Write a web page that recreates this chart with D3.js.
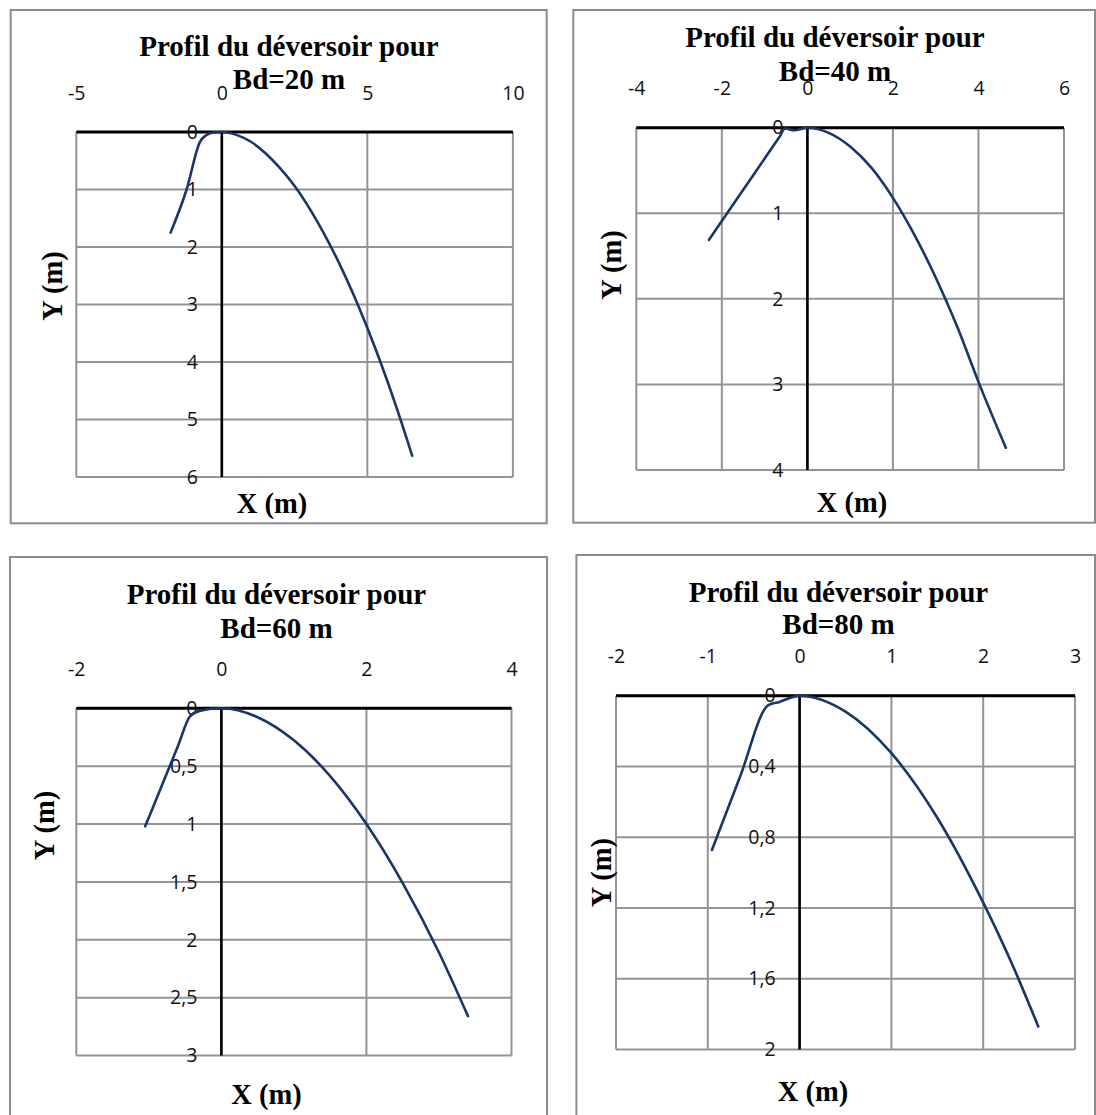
<!DOCTYPE html>
<html>
<head>
<meta charset="utf-8">
<script src="https://cdn.jsdelivr.net/npm/d3@7"></script>
<style>
  html, body { margin: 0; padding: 0; background: #fff; }
  svg { display: block; }
  .tick text { font-family: "Open Sans", sans-serif; font-size: 19.5px; fill: #111; }
  .ttl { font-family: "Liberation Serif", "Times New Roman", serif; font-weight: bold; font-size: 29px; fill: #000; }
  .lbl { font-family: "Liberation Serif", "Times New Roman", serif; font-weight: bold; font-size: 28.5px; fill: #000; }
</style>
</head>
<body>
<svg id="chart" width="1096" height="1115"></svg>
<script>
// Crest profiles of the spillway for four spillway widths (Bd).
// X: horizontal distance from the crest (m), Y: depth below the crest (m).

const titles = ["Bd=20 m", "Bd=40 m", "Bd=60 m", "Bd=80 m"];

// Bd = 20 m
const bd20X = [-1.76, -1.21, -0.75, -0.55, -0.3, 0, 0.5, 1, 1.5, 2, 2.5, 3, 3.5, 4, 4.5, 5, 5.5, 6, 6.54];
const bd20Y = [1.75, 1.0, 0.17, 0.06, 0.01, 0, 0.05, 0.17, 0.37, 0.63, 0.94, 1.32, 1.76, 2.25, 2.8, 3.41, 4.07, 4.79, 5.63];
const xTicks20 = [-5, 0, 5, 10];
const yTicks20 = [0, 1, 2, 3, 4, 5, 6];

// Bd = 40 m
const bd40X = [-2.3, -1.5, -0.8, -0.65, -0.52, -0.3, 0, 0.5, 1, 1.5, 2, 2.5, 3, 3.5, 4, 4.64];
const bd40Y = [1.31, 0.726, 0.215, 0.105, 0.01, 0.03, 0, 0.06, 0.22, 0.47, 0.82, 1.25, 1.75, 2.32, 2.97, 3.74];
const xTicks40 = [-4, -2, 0, 2, 4, 6];
const yTicks40 = [0, 1, 2, 3, 4];

// Bd = 60 m
const bd60X = [-1.05, -0.9, -0.75, -0.6, -0.43, -0.29, 0, 0.5, 1, 1.5, 2, 2.5, 3, 3.4];
const bd60Y = [1.02, 0.79, 0.56, 0.328, 0.067, 0.02, 0, 0.077, 0.277, 0.586, 1.0, 1.51, 2.11, 2.66];
const xTicks60 = [-2, 0, 2, 4];
const yTicks60 = [0, 0.5, 1, 1.5, 2, 2.5, 3];

// Bd = 80 m
const bd80X = [-0.955, -0.65, -0.34, -0.22, 0, 0.5, 1, 1.5, 2, 2.3, 2.6];
const bd80Y = [0.872, 0.46, 0.053, 0.035, 0, 0.09, 0.325, 0.69, 1.17, 1.5, 1.87];
const xTicks80 = [-2, -1, 0, 1, 2, 3];
const yTicks80 = [0, 0.4, 0.8, 1.2, 1.6, 2];

// Page layout of each chart block
const layouts = [
  { plot: {l: 76.3, r: 512.9, t: 132, b: 477},  box: {x0: 10.7, y0: 10, x1: 546.7, y1: 523.3},
    title: {cx: 289, y1: 55.7, y2: 89.3}, xLab: {cx: 272, y: 513}, yLab: {x: 62, cy: 286} },
  { plot: {l: 636.3, r: 1064, t: 127.7, b: 470}, box: {x0: 573.3, y0: 10, x1: 1095, y1: 522.7},
    title: {cx: 835, y1: 46.7, y2: 80.7}, xLab: {cx: 852, y: 511.7}, yLab: {x: 621, cy: 265} },
  { plot: {l: 76.3, r: 511.5, t: 708.3, b: 1055.5}, box: {x0: 10, y0: 557, x1: 547, y1: 1130},
    title: {cx: 276.5, y1: 604, y2: 638}, xLab: {cx: 266.5, y: 1104}, yLab: {x: 54, cy: 825.5} },
  { plot: {l: 616, r: 1075, t: 695.7, b: 1049.5}, box: {x0: 576.4, y0: 555, x1: 1095, y1: 1130},
    title: {cx: 838.5, y1: 602, y2: 634.3}, xLab: {cx: 813, y: 1101}, yLab: {x: 611, cy: 872.6} }
];

const series = [
  {xs: bd20X, ys: bd20Y, xt: xTicks20, yt: yTicks20},
  {xs: bd40X, ys: bd40Y, xt: xTicks40, yt: yTicks40},
  {xs: bd60X, ys: bd60Y, xt: xTicks60, yt: yTicks60},
  {xs: bd80X, ys: bd80Y, xt: xTicks80, yt: yTicks80}
];

const svg = d3.select("#chart");
const fmt = d => String(d).replace(".", ",");

series.forEach((s, i) => {
  const L = layouts[i], P = L.plot;
  const g = svg.append("g");

  // outer frame
  g.append("rect")
    .attr("x", L.box.x0).attr("y", L.box.y0)
    .attr("width", L.box.x1 - L.box.x0).attr("height", L.box.y1 - L.box.y0)
    .attr("fill", "none").attr("stroke", "#8c8c8c").attr("stroke-width", 2);

  const x = d3.scaleLinear().domain(d3.extent(s.xt)).range([P.l, P.r]);
  const y = d3.scaleLinear().domain(d3.extent(s.yt)).range([P.t, P.b]);

  // grid
  const grid = g.append("g").attr("stroke", "#949494").attr("stroke-width", 2);
  grid.selectAll("line.v").data(s.xt).join("line").attr("class", "v")
    .attr("x1", d => x(d)).attr("x2", d => x(d)).attr("y1", P.t).attr("y2", P.b);
  grid.selectAll("line.h").data(s.yt).join("line").attr("class", "h")
    .attr("x1", P.l).attr("x2", P.r).attr("y1", d => y(d)).attr("y2", d => y(d));

  // main axes through the crest
  g.append("line").attr("x1", x(0)).attr("x2", x(0)).attr("y1", P.t).attr("y2", P.b)
    .attr("stroke", "#000").attr("stroke-width", 2.6);
  g.append("line").attr("x1", P.l).attr("x2", P.r).attr("y1", y(0)).attr("y2", y(0))
    .attr("stroke", "#000").attr("stroke-width", 3);

  // tick labels
  const xa = g.append("g").attr("transform", `translate(0,${P.t})`)
    .call(d3.axisTop(x).tickValues(s.xt).tickFormat(fmt).tickSize(0).tickPadding(32.5));
  xa.select(".domain").remove();

  const ya = g.append("g").attr("transform", `translate(${x(0)},0)`)
    .call(d3.axisLeft(y).tickValues(s.yt).tickFormat(fmt).tickSize(0).tickPadding(24));
  ya.select(".domain").remove();

  // profile curve
  const pts = s.xs.map((v, k) => [v, s.ys[k]]);
  g.append("path").datum(pts)
    .attr("d", d3.line().x(d => x(d[0])).y(d => y(d[1])).curve(d3.curveMonotoneX))
    .attr("fill", "none").attr("stroke", "#1a3668").attr("stroke-width", 2.6)
    .attr("stroke-linecap", "round").attr("stroke-linejoin", "round");

  // titles and axis names
  g.append("text").attr("class", "ttl").attr("x", L.title.cx).attr("y", L.title.y1)
    .attr("text-anchor", "middle").text("Profil du déversoir pour");
  g.append("text").attr("class", "ttl").attr("x", L.title.cx).attr("y", L.title.y2)
    .attr("text-anchor", "middle").text(titles[i]);
  g.append("text").attr("class", "lbl").attr("x", L.xLab.cx).attr("y", L.xLab.y)
    .attr("text-anchor", "middle").text("X (m)");
  g.append("text").attr("class", "lbl")
    .attr("transform", `translate(${L.yLab.x},${L.yLab.cy}) rotate(-90)`)
    .attr("text-anchor", "middle").text("Y (m)");
});
</script>
</body>
</html>
